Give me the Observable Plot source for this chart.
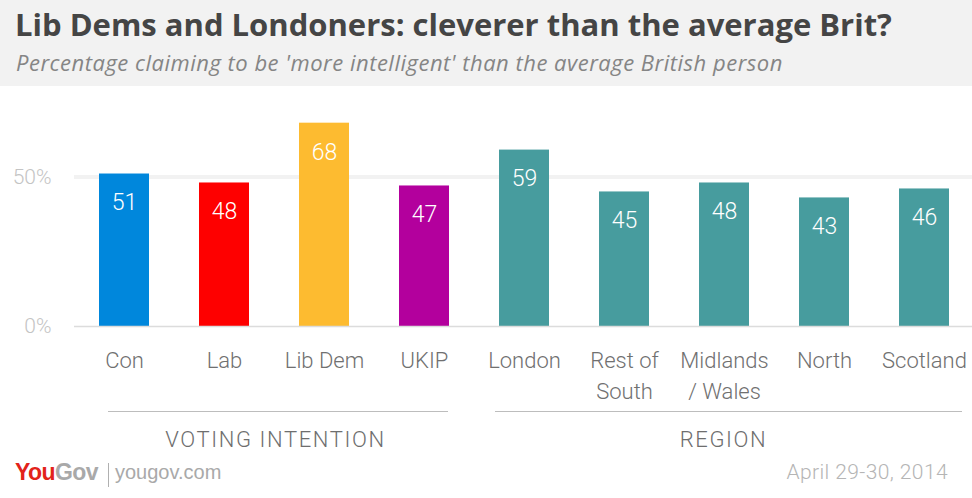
<!DOCTYPE html>
<html>
<head>
<meta charset="utf-8">
<script src="https://cdn.jsdelivr.net/npm/d3@7"></script>
<script src="https://cdn.jsdelivr.net/npm/@observablehq/plot@0.6"></script>
<style>
  html, body { margin: 0; padding: 0; background: #fff; }
  body { width: 972px; height: 498px; position: relative; overflow: hidden; font-family: Roboto, "Open Sans", sans-serif; }
  #header { position: absolute; left: 0; top: 0; width: 972px; height: 86px; background: #f2f2f2; }
  #title { position: absolute; left: 15px; top: 3px; font-family: "Open Sans", sans-serif; font-weight: 700; font-size: 31px; color: #454545; white-space: nowrap; letter-spacing: 0px; }
  #subtitle { position: absolute; left: 16px; top: 47px; font-family: "Open Sans", sans-serif; font-style: italic; font-size: 22px; color: #858585; white-space: nowrap; letter-spacing: 0.5px; }
  #chart { position: absolute; left: 0; top: 85px; }
  #logo { position: absolute; left: 15px; top: 459px; font-family: "Liberation Sans", Arial, sans-serif; font-weight: 700; font-size: 23px; letter-spacing: -0.6px; white-space: nowrap; }
  #logo .you { color: #e2231a; }
  #logo .gov { color: #a9a9a9; }
  #sep { position: absolute; left: 108px; top: 463px; width: 1px; height: 24px; background: #b0b0b0; }
  #site { position: absolute; left: 115px; top: 461px; font-family: "Liberation Sans", Arial, sans-serif; font-size: 20px; color: #a9a9a9; white-space: nowrap; }
  #date { position: absolute; right: 24px; top: 460px; font-family: Roboto, sans-serif; font-weight: 300; font-size: 21px; letter-spacing: 0.4px; color: #b5b5b5; white-space: nowrap; }
</style>
</head>
<body>
<div id="header">
  <div id="title">Lib Dems and Londoners: cleverer than the average Brit?</div>
  <div id="subtitle">Percentage claiming to be 'more intelligent' than the average British person</div>
</div>
<div id="chart"></div>
<div id="logo"><span class="you">You</span><span class="gov">Gov</span></div>
<div id="sep"></div>
<div id="site">yougov.com</div>
<div id="date">April 29-30, 2014</div>
<script>
const categories = ["Con", "Lab", "Lib Dem", "UKIP", "London", "Rest of South", "Midlands / Wales", "North", "Scotland"];
const labels = ["Con", "Lab", "Lib Dem", "UKIP", "London", "Rest of\nSouth", "Midlands\n/ Wales", "North", "Scotland"];
const values = [51, 48, 68, 47, 59, 45, 48, 43, 46];
const colors = ["#0087dc", "#fe0000", "#fdbb30", "#b3009d", "#479c9e", "#479c9e", "#479c9e", "#479c9e", "#479c9e"];
const yTicks = [0, 50];
const groupNames = ["VOTING INTENTION", "REGION"];

const rows = categories.map((c, i) => ({cat: c, label: labels[i], value: values[i], color: colors[i]}));

const chart = Plot.plot({
  width: 972,
  height: 413,
  marginLeft: 74,
  marginRight: 0,
  marginTop: 0,
  marginBottom: 0,
  style: {fontFamily: "Roboto, sans-serif", background: "transparent", overflow: "visible"},
  x: {domain: categories, range: [74, 974], paddingInner: 0.5, paddingOuter: 0.25, axis: null},
  y: {domain: [0, 100], range: [241, -58], axis: null},
  marks: [
    Plot.ruleY([50], {stroke: "#f2f2f2", strokeWidth: 4}),
    Plot.barY(rows, {x: "cat", y: "value", fill: d => d.color}),
    Plot.ruleY([0], {stroke: "#dcdcdc", strokeWidth: 1.5}),
    Plot.axisY(yTicks, {anchor: "left", label: null, tickSize: 0, tickPadding: 23, tickFormat: d => d + "%", fontSize: 21, fontWeight: 300, color: "#c4c4c4"}),
    Plot.text(rows, {x: "cat", y: "value", text: d => String(d.value), dy: 29, fill: "white", fontSize: 23, fontWeight: 300}),
    Plot.text(rows, {x: "cat", y: d => 0, text: "label", lineAnchor: "top", dy: 20, lineHeight: 1.4, fontSize: 22, fontWeight: 300, fill: "#707070"}),
    Plot.ruleY([0], {x1: () => categories[0], x2: () => categories[3], dy: 85, insetLeft: 9, insetRight: 1, stroke: "#bdbdbd", strokeWidth: 1.2}),
    Plot.ruleY([0], {x1: () => categories[4], x2: () => categories[8], dy: 85, insetLeft: -4, insetRight: -13, stroke: "#bdbdbd", strokeWidth: 1.2}),
    Plot.text([groupNames[0]], {x: () => categories[1], y: d => 0, dx: 51, dy: 113, text: d => d, fontSize: 22, fontWeight: 300, fill: "#6e6e6e"}),
    Plot.text([groupNames[1]], {x: () => categories[6], y: d => 0, dx: -1, dy: 113, text: d => d, fontSize: 22, fontWeight: 300, fill: "#6e6e6e"})
  ]
});
d3.select(chart).selectAll("text")
  .filter(function () { return groupNames.includes(this.textContent); })
  .attr("letter-spacing", "1.6px");
document.getElementById("chart").appendChild(chart);
</script>
</body>
</html>
